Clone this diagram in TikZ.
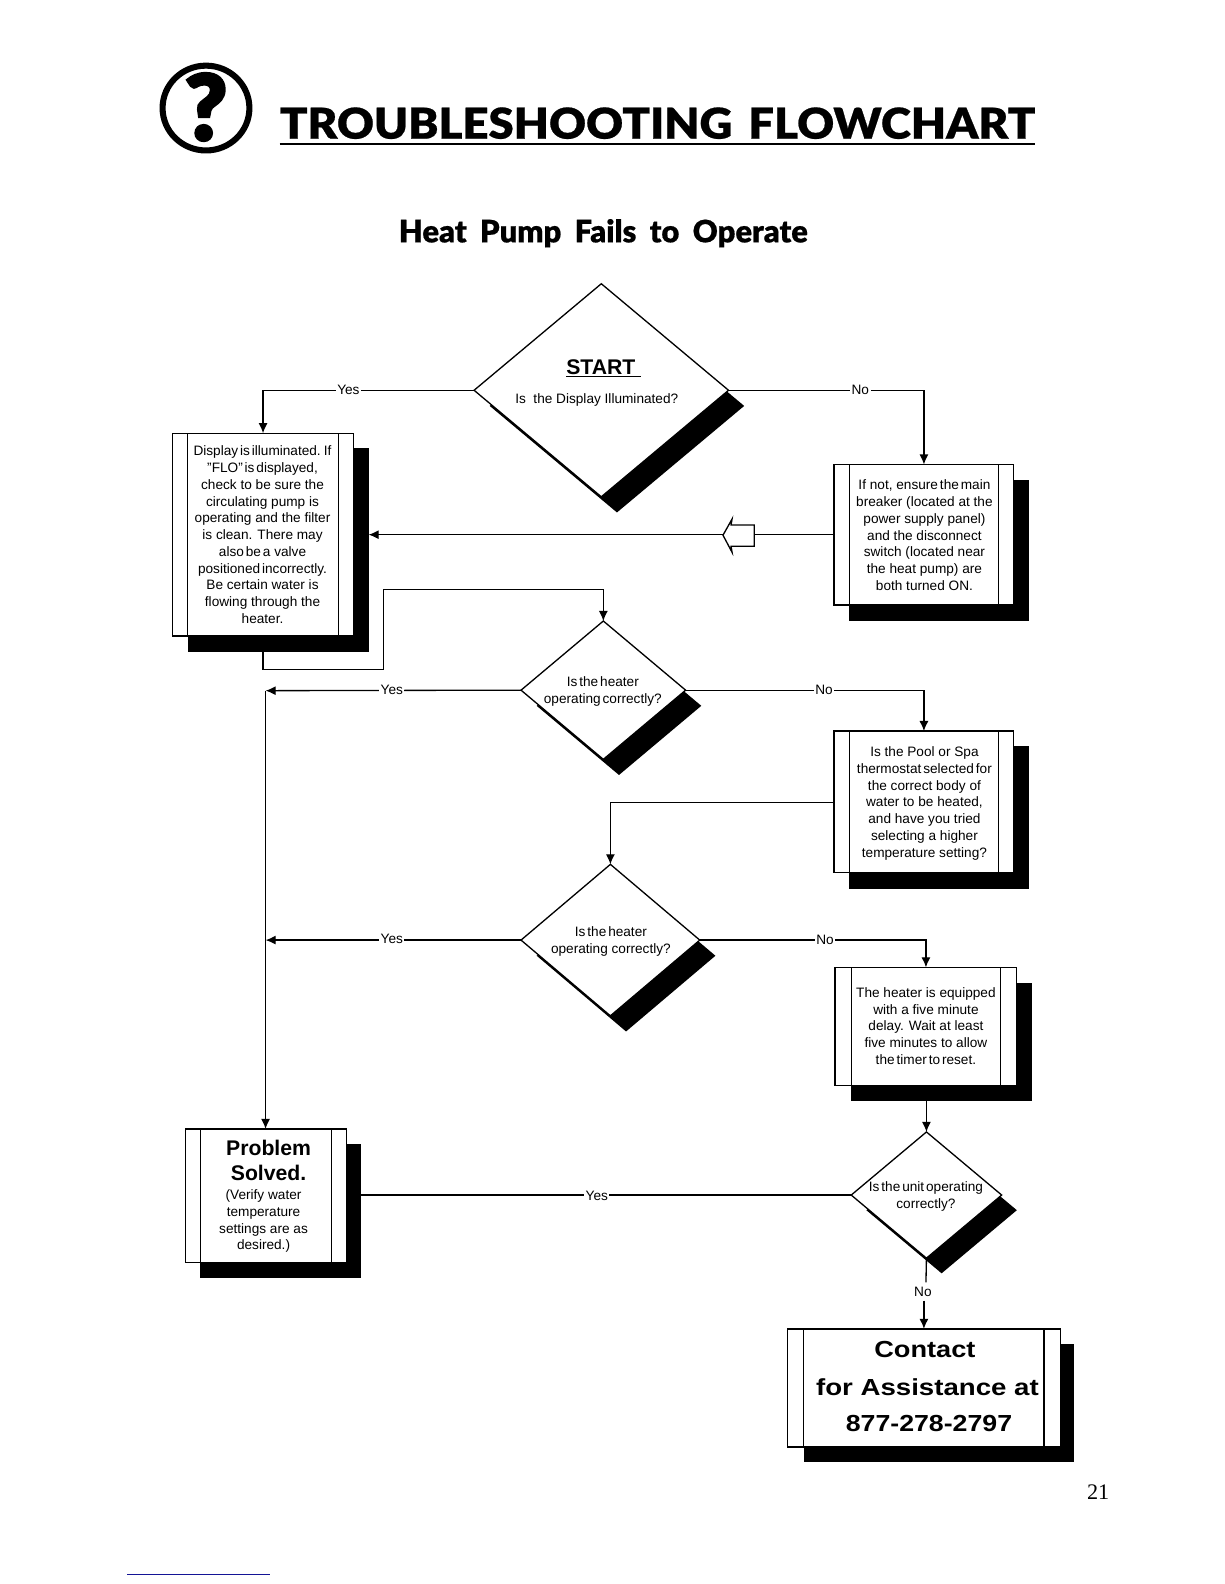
\documentclass[tikz,border=0pt]{standalone}
\usepackage{fontspec}
\setmainfont{Liberation Sans}
\newfontfamily\headfont[FakeBold=0.5]{Lato Black}
\newfontfamily\qfont[FakeBold=3]{Lato Black}
\newfontfamily\numfont{Liberation Serif}
\usetikzlibrary{arrows.meta,shapes.geometric}
\newcommand{\tg}[1]{{\spaceskip=.14em\relax #1}}
\tikzset{
  conn/.style={line width=1.3pt,black},
  arr/.style={conn,-{Latex[length=10pt,width=9pt]}},
  lab/.style={font=\fontsize{13.5}{16}\selectfont,fill=white,inner sep=1.5pt},
  body/.style={font=\fontsize{13.5}{16.6}\selectfont,align=center,inner sep=0pt},
  box/.style={draw=black,fill=white,line width=1.3pt,rectangle,inner sep=0pt,outer sep=0pt},
  shad/.style={fill=black,rectangle,inner sep=0pt,outer sep=0pt},
  dia/.style={diamond,draw=black,fill=white,line width=1.3pt,inner sep=0pt,outer sep=0pt},
  diash/.style={diamond,fill=black,inner sep=0pt,outer sep=0pt},
  big/.style={inner sep=0pt,font=\bfseries\fontsize{23}{23}\selectfont},
}
% name, x1,y1,x2,y2, inset, shadow x2, shadow y2
\newcommand{\flowbox}[8]{%
  \node[shad,minimum width={(#7-#2-#6)*1pt},minimum height={(#8-#3-15)*1pt}] (#1s) at ({(#7+#2+#6)/2},{(#8+#3+15)/2}) {};
  \node[box,minimum width={(#4-#2)*1pt},minimum height={(#5-#3)*1pt}] (#1) at ({(#2+#4)/2},{(#3+#5)/2}) {};
  \draw[conn] (#2+#6,#3) -- (#2+#6,#5);
  \draw[conn] (#4-#6,#3) -- (#4-#6,#5);
}
% name, cx, cy, w, h, shadow offset
\newcommand{\flowdia}[6]{%
  \node[diash,minimum width=#4pt,minimum height=#5pt] (#1s) at (#2+#6,#3+#6) {};
  \node[dia,minimum width=#4pt,minimum height=#5pt] (#1) at (#2,#3) {};
}
\begin{document}
\begin{tikzpicture}[x=1pt,y=-1pt]
\useasboundingbox (0,0) rectangle (1212.2,1568.7);
% header
\node[draw=black,line width=6pt,ellipse,minimum width=86pt,minimum height=84pt,inner sep=0pt] (icon) at (204,107) {};
\node[inner sep=0pt] (qm) at (204,106) {\qfont\fontsize{90}{90}\selectfont ?};
\node[inner sep=0pt,anchor=west] (title) at (277,122) {\resizebox{748pt}{31pt}{\headfont\fontsize{42}{42}\selectfont TROUBLESHOOTING\hspace{.35em}FLOWCHART}};
\draw[line width=2pt] (title.west |- 0,143) -- (title.east |- 0,143);
\node[inner sep=0pt] (sub) at (597.5,231) {\resizebox{405pt}{!}{\headfont\fontsize{28}{28}\selectfont Heat\hspace{.2em} Pump\hspace{.2em} Fails\hspace{.2em} to\hspace{.2em} Operate}};
% boxes
\flowbox{bA}{171}{429}{350}{630}{15}{365}{646}
\flowbox{bB}{826}{460}{1004}{599}{15}{1019}{615}
\flowbox{bC}{826}{724}{1004}{864}{15}{1019}{880}
\flowbox{bD}{827}{958}{1007}{1075}{16}{1022}{1090}
\flowbox{bE}{184}{1118}{343}{1250}{14.5}{358}{1266}
\flowbox{bF}{780}{1316}{1050}{1433}{16}{1064}{1448}
% diamonds
\flowdia{dA}{595.5}{386.5}{252}{211}{15.5}
\flowdia{dB}{597.5}{683.5}{163}{137}{15.5}
\flowdia{dC}{604.5}{931}{177}{150}{15.5}
\flowdia{dD}{917.5}{1183.5}{149}{125}{15}
% auxiliary points
\coordinate (jA) at (263,684);
\coordinate (jB) at (263,931);
\coordinate (rA) at (380,663);
\coordinate (rB) at (380,584);
\coordinate (mA) at (917,1270);
\coordinate (mB) at (915,1288);
% connectors
\draw[arr] (dA.west) -| (bA.north);
\draw[arr] (dA.east) -| (bB.north);
\draw[arr] (bB.west) -- (bB.west -| bAs.east);
\draw[arr] (bA.south |- bAs.south) -- (bA.south |- rA) -- (rA) -- (rB) -- (rB -| dB.north) -- (dB.north);
\draw[arr] (dB.west) -- (jA);
\draw[arr] (dB.east) -| (bC.north);
\draw[arr] (bC.west |- 0,795) -| (dC.north);
\draw[arr] (dC.west) -- (jB);
\draw[arr] (dC.east) -| (bD.north);
\draw[arr] (jA) -- (jA |- bE.north);
\draw[arr] (dD.north |- bDs.south) -- (dD.north);
\draw[conn] (dD.west) -- (dD.west -| bEs.east);
\draw[conn] (dD.south) -- (mA);
\draw[arr] (mB) -- (mB |- bF.north);
% hollow arrow
\draw[line width=1.3pt,fill=white,line join=miter] (716,530) -- (725,514) -- (724,520) -- (747,520) -- (747,541) -- (724,541) -- (725,547) -- cycle;
% labels on connectors
\node[lab] (l1) at (345,386) {Yes};
\node[lab] (l2) at (852,386) {No};
\node[lab] (l3) at (388,683) {Yes};
\node[lab] (l4) at (816,683) {No};
\node[lab] (l5) at (388,930) {Yes};
\node[lab] (l6) at (817,931) {No};
\node[lab] (l7) at (591,1184) {Yes};
\node[lab] (l8) at (914,1279) {No};
% texts
\node[inner sep=0pt,font=\bfseries\fontsize{21}{21}\selectfont] (tA0) at (598,365) {\underline{START\ }};
\node[body] (tA) at (591,396) {Is\ \ the Display Illuminated?};
\node[body] (tbA) at (260,529.5) {\tg{Display is illuminated. If}\\\tg{"FLO" is displayed,}\\check to be sure the\\circulating pump is\\operating and the filter\\is clean. There may\\\tg{also be a} valve\\\tg{positioned incorrectly.}\\Be certain water is\\flowing through the\\heater.};
\node[body] (tbB) at (915.5,530) {If not, \tg{ensure the main}\\breaker (located at the\\power supply panel)\\and the disconnect\\switch (located near\\the heat pump) are\\both turned ON.};
\node[body] (tdB) at (597,684.5) {\tg{Is the heater}\\\tg{operating correctly?}};
\node[body] (tbC) at (915.5,795.5) {Is the Pool or Spa\\\tg{thermostat selected for}\\the correct body of\\water to be heated,\\and have you tried\\selecting a higher\\temperature setting?};
\node[body] (tdC) at (605,932.5) {\tg{Is the heater}\\operating correctly?};
\node[body] (tbD) at (917,1016) {The heater is equipped\\with a five minute\\delay. Wait at least\\five minutes to allow\\\tg{the timer to reset.}};
\node[body] (tdD) at (917,1185) {\tg{Is the unit operating}\\correctly?};
\node[inner sep=0pt,align=center,font=\bfseries\fontsize{21}{25}\selectfont] (tbE) at (266,1149.5) {Problem\\Solved.};
\node[body] (tbE2) at (261,1209.5) {(Verify water\\temperature\\settings are as\\desired.)};
\node[big] (tF1) at (916,1336) {\scalebox{1.17}[1]{Contact}};
\node[big] (tF2) at (918.5,1374) {\scalebox{1.19}[1]{for Assistance at}};
\node[big] (tF3) at (920,1410) {\scalebox{1.15}[1]{877-278-2797}};
\node[inner sep=0pt,font=\numfont\fontsize{22}{22}\selectfont] (pg) at (1087.5,1477.5) {21};
\coordinate (uA) at (126,1559);
\coordinate (uB) at (267,1559);
\draw[line width=1.2pt,color={rgb,255:red,20;green,20;blue,150}] (uA) -- (uB);
\end{tikzpicture}
\end{document}
